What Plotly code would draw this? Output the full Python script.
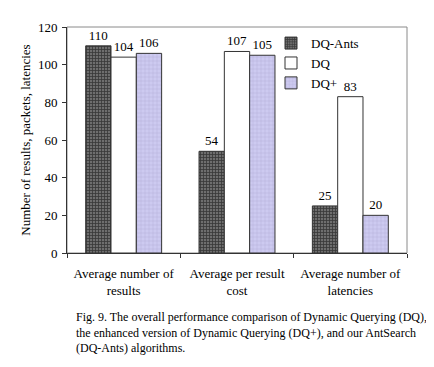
import plotly.graph_objects as go

categories = ["Average number of<br>results", "Average per result<br>cost", "Average number of<br>latencies"]
series_names = ["DQ-Ants", "DQ", "DQ+"]
dq_ants = [110, 54, 25]
dq = [104, 107, 83]
dq_plus = [106, 105, 20]
y_ticks = [0, 20, 40, 60, 80, 100, 120]

SERIF = "Liberation Serif, Times New Roman, serif"

fig = go.Figure()
styles = [
    dict(color="#6e6e6e", pattern=dict(shape="+", fgcolor="#000000", size=3, solidity=0.45)),
    dict(color="#ffffff"),
    dict(color="#cdcaf0", pattern=dict(shape="+", fgcolor="#9d99c6", size=4, solidity=0.25)),
]
for name, vals, st in zip(series_names, [dq_ants, dq, dq_plus], styles):
    fig.add_trace(go.Bar(
        x=categories, y=vals, name=name,
        marker=dict(line=dict(color="#333333", width=1), **st),
        text=[str(v) for v in vals], textposition="outside",
        textfont=dict(family=SERIF, size=13, color="#000000"),
        cliponaxis=False,
    ))

fig.update_layout(
    width=426, height=359,
    paper_bgcolor="white", plot_bgcolor="white",
    margin=dict(l=59, r=27, t=16, b=114),
    barmode="group", bargap=0.33, bargroupgap=0,
    font=dict(family=SERIF, size=13, color="#000000"),
    legend=dict(x=0.60, y=0.995, xanchor="left", yanchor="top",
                font=dict(family=SERIF, size=13), bgcolor="rgba(0,0,0,0)",
                itemwidth=30, tracegroupgap=0),
    showlegend=True,
    xaxis=dict(showline=True, linecolor="#333333", linewidth=1, mirror=False,
               ticks="outside", ticklen=4, tickson="boundaries", tickcolor="#333333",
               ticklabelstandoff=8,
               tickfont=dict(family=SERIF, size=13)),
    yaxis=dict(range=[0, 120], tickvals=y_ticks, showline=True, linecolor="#333333",
               linewidth=1, ticks="outside", ticklen=4, tickcolor="#333333",
               showgrid=False, zeroline=False,
               ticklabelstandoff=2,
               tickfont=dict(family=SERIF, size=13),
               title=dict(text="Number of results, packets, latencies",
                          font=dict(family=SERIF, size=13), standoff=4)),
)
# frame top/right in gray
fig.add_shape(type="rect", xref="paper", yref="paper", x0=0, y0=0, x1=1, y1=1,
              line=dict(color="#8a8a8a", width=1), layer="below")

fig.add_annotation(
    xref="paper", yref="paper", x=0.02, y=-0.245, xanchor="left", yanchor="top",
    align="left", showarrow=False,
    text="Fig. 9. The overall performance comparison of Dynamic Querying (DQ),<br>"
         "the enhanced version of Dynamic Querying (DQ+), and our AntSearch<br>"
         "(DQ-Ants) algorithms.",
    font=dict(family=SERIF, size=12, color="#000000"),
)

fig.write_html("out.html")
